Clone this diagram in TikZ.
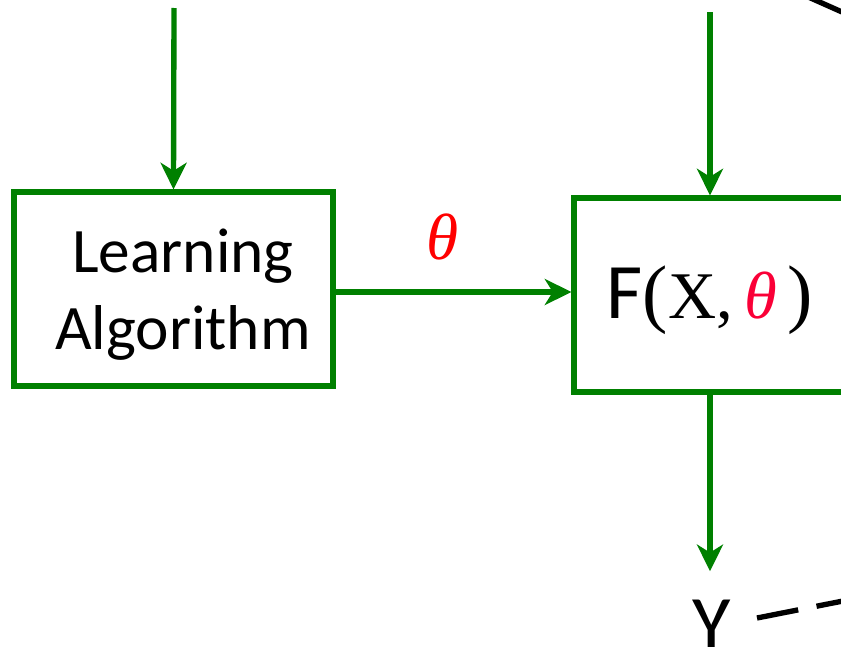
\documentclass[tikz,border=0pt]{standalone}
\usepackage{fontspec}
\setmainfont{Carlito}
\newfontfamily\serifg{Liberation Serif}
\usetikzlibrary{arrows.meta}
\definecolor{pgreen}{RGB}{0,128,0}
\definecolor{thred}{RGB}{255,0,0}
\definecolor{thredb}{RGB}{250,0,55}
\begin{document}
\begin{tikzpicture}[x=0.75pt,y=-0.75pt,
  box/.style={draw=pgreen,line width=3.8pt,inner sep=0pt},
  arr/.style={draw=pgreen,line width=4pt,-{Stealth[length=20pt,width=19.5pt,inset=6pt]}},
  lbl/.style={inner sep=0pt},
  blk/.style={draw=black,line width=4pt}]
\useasboundingbox (0,0) rectangle (841,646);
\clip (0,0) rectangle (841,646);
% boxes
\node[box,minimum width=239.25pt,minimum height=145.5pt] (la) at (173.5,289) {};
\node[lbl,align=center,font=\fontsize{47.5}{57.75}\selectfont] (lat) at (183,295) {Learning\\Algorithm};
\node[box,minimum width=204pt,minimum height=145.5pt] (f) at (710,295) {};
\node[lbl,anchor=base,font=\fontsize{59}{70}\selectfont] (ft) at (710,318)
  {F{\serifg\fontsize{50}{60}\selectfont{\fontsize{57}{60}\selectfont(}X,\,{\itshape\color{thredb}θ}\,{\fontsize{57}{60}\selectfont)}}};
% free ends
\coordinate (t1) at (174,8);
\coordinate (t2) at (710,12);
% arrows
\draw[arr] (t1) -- (la.north);
\draw[arr] (t2) -- (f.north);
\draw[arr] (la.east |- 0,292) -- (f.west |- 0,292);
\node[lbl,anchor=base,font=\serifg\itshape\fontsize{49}{58}\selectfont,text=thred] (th) at (443,259) {θ};
% output
\node[lbl,anchor=base,font=\fontsize{59}{70}\selectfont] (y) at (712,650) {Y};
\draw[arr,shorten >=21pt] (f.south) -- (f.south |- y.north);
% black strokes
\coordinate (d1) at (757,618);
\coordinate (d2) at (848,600);
\draw[blk,dash pattern=on 31.5pt off 14pt] (d1) -- (d2);
\coordinate (c1) at (806,-4);
\coordinate (c2) at (851,16);
\draw[blk] (c1) -- (c2);
\end{tikzpicture}
\end{document}
